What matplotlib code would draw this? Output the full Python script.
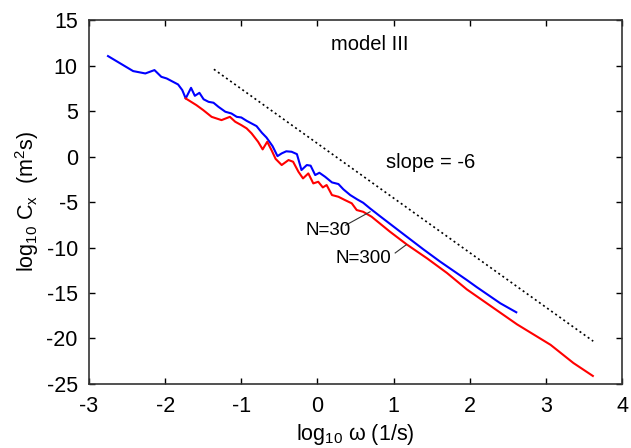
import matplotlib
matplotlib.use('Agg')
import matplotlib.pyplot as plt

plt.rcParams['font.family'] = ['Liberation Sans', 'DejaVu Sans']
plt.rcParams['mathtext.fontset'] = 'custom'
plt.rcParams['mathtext.rm'] = 'Liberation Sans'
plt.rcParams['mathtext.it'] = 'Liberation Sans'
plt.rcParams['axes.unicode_minus'] = False

# N=30 (blue)
x_n30 = [-2.75, -2.42, -2.26, -2.14, -2.05, -1.98, -1.83, -1.775, -1.73, -1.66,
         -1.61, -1.55, -1.495, -1.43, -1.365, -1.30, -1.21, -1.13, -1.06, -1.00,
         -0.93, -0.865, -0.80, -0.73, -0.67, -0.59, -0.525, -0.47, -0.41, -0.34,
         -0.27, -0.21, -0.14, -0.09, -0.03, 0.025, 0.10, 0.19, 0.275, 0.34,
         0.43, 0.52, 0.60, 0.69, 0.82, 1.085, 1.39, 1.61, 1.96,
         2.09, 2.40, 2.61]
y_n30 = [11.05, 9.40, 9.14, 9.51, 8.77, 8.59, 7.93, 7.31, 6.39, 7.56,
         6.68, 7.01, 6.30, 6.02, 5.92, 5.47, 4.93, 4.74, 4.37, 4.30,
         3.93, 3.64, 3.35, 2.62, 2.10, 1.15, 0.05, 0.35, 0.58, 0.53,
         0.27, -1.48, -0.93, -1.00, -2.03, -1.78, -2.22, -2.84, -3.02, -3.60,
         -4.23, -4.70, -5.08, -5.70, -6.55, -8.25, -10.20, -11.55, -13.57,
         -14.35, -16.13, -17.12]

# N=300 (red)
x_n300 = [-1.73, -1.59, -1.50, -1.39, -1.26, -1.15, -1.08, -1.00, -0.93, -0.865,
          -0.78, -0.72, -0.66, -0.60, -0.55, -0.47, -0.38, -0.32, -0.25, -0.19,
          -0.12, -0.055, 0.01, 0.07, 0.12, 0.19, 0.275, 0.36, 0.45, 0.515,
          0.60, 0.71, 0.95, 1.17, 1.44, 1.70, 1.96, 2.62, 3.06, 3.36, 3.615]
y_n300 = [6.39, 5.66, 5.11, 4.37, 4.01, 4.37, 3.83, 3.46, 3.10, 2.55,
          1.63, 0.79, 1.63, 0.65, -0.25, -0.93, -0.38, -0.57, -1.67, -2.40,
          -1.85, -2.95, -2.77, -3.39, -3.13, -4.23, -4.42, -4.78, -5.14, -5.88,
          -6.07, -6.61, -8.25, -9.65, -11.20, -12.80, -14.60, -18.45, -20.70, -22.70, -24.12]

# slope = -6 reference line
x_slope = [-1.36, 3.62]
y_slope = [9.6, -20.3]

fig = plt.figure(figsize=(6.31, 4.48), dpi=100)
ax = fig.add_axes([0.141, 0.143, 0.845, 0.812])

ax.plot(x_slope, y_slope, color='black', linestyle=(0, (1.2, 1.8)), linewidth=1.2)
ax.plot(x_n30, y_n30, color='#0000ff', linewidth=1.5)
ax.plot(x_n300, y_n300, color='#ff0000', linewidth=1.5)

ax.set_xlim(-3, 4)
ax.set_ylim(-25, 15)
ax.set_xticks(range(-3, 5))
ax.set_yticks(range(-25, 16, 5))

ax.tick_params(direction='in', length=4, width=1, top=True, right=True,
               labelsize=15.5)
ax.tick_params(axis='x', pad=9)
ax.tick_params(axis='y', pad=8)
for s in ax.spines.values():
    s.set_linewidth(1.2)
    s.set_color('#333333')

ax.set_xlabel(r'log$_{10}$ ω (1/s)', fontsize=15.5, labelpad=3)
ax.set_ylabel(r'log$_{10}$ C$_{\rm x}$  (m$^{2}$s)', fontsize=15.5, labelpad=4)

ax.text(0.69, 12.3, 'model III', fontsize=14.5, ha='center', va='center')
ax.text(1.48, -0.6, 'slope = -6', fontsize=14.5, ha='center', va='center')

# curve labels with leader lines
ax.text(0.14, -8.1, 'N=30', fontsize=13.5, ha='center', va='center')
ax.plot([0.37, 0.69], [-7.55, -6.07], color='#333333', linewidth=0.8)
ax.text(0.60, -11.2, 'N=300', fontsize=13.5, ha='center', va='center')
ax.plot([1.02, 1.165], [-10.6, -9.7], color='#333333', linewidth=0.8)

fig.savefig('out.png', dpi=100)
